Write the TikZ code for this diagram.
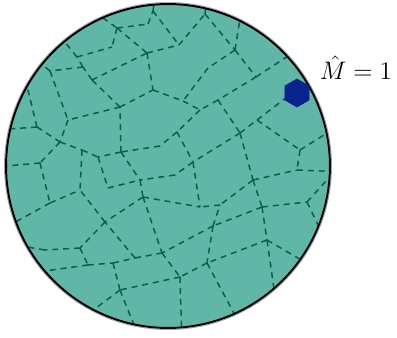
\documentclass[tikz,border=0pt]{standalone}
\usepackage{tikz}
\usetikzlibrary{shapes.geometric}
\usepackage{amsmath}
\definecolor{cellfill}{RGB}{96,183,168}
\definecolor{wallgreen}{RGB}{16,92,74}
\definecolor{sitenavy}{RGB}{8,36,140}

\begin{document}
\begin{tikzpicture}[
    x=0.02cm, y=-0.02cm,
    cellwall/.style={wallgreen, line width=0.85pt, dash pattern=on 3.4pt off 2.8pt},
    site/.style={regular polygon, regular polygon sides=6, shape border rotate=30,
        minimum size=0.56cm, inner sep=0pt, fill=sitenavy, draw=sitenavy},
]
    \useasboundingbox (0,0) rectangle (397,338);

    % disc
    \coordinate (c) at (168,166);
    \fill[cellfill] (c) circle[radius=3.24cm];

    % cell vertices
    \foreach \n/\x/\y in {p1/117/28, p2/148/24, p3/153/11, p4/147/53, p5/179/45,
        p6/205/14, p7/235/50, p8/208/68, p9/256/77, p10/218/100, p11/240/133,
        p12/257/120, p13/300/150, p14/253/180, p15/262/207, p16/307/202,
        p17/267/240, p18/207/263, p19/220/205, p20/153/90, p21/177/132,
        p22/193/162, p23/77/57, p24/112/47, p25/50/71, p26/83/67, p27/92/80,
        p28/120/107, p29/68/120, p30/121/152, p31/160/146, p32/37/127,
        p33/60/142, p34/82/150, p35/40/163, p36/50/203, p37/80/190,
        p38/108/188, p39/140/180, p40/143/197, p41/105/222, p42/45/250,
        p43/162/253, p44/180/277, p45/120/290, p46/88/265, p47/297/170,
        p48/200/110, p51/213/226, p52/175/175, p53/98/157, p58/80/248,
        p59/113/263, p60/135/258, p61/200/207, p62/183/101} {
        \coordinate (\n) at (\x,\y);
    }
    % free ends beyond the rim
    \foreach \n/\x/\y in {q1/85/5, q2/156/-10, q3/208/-10, q4/243/0, q5/305/45,
        q6/320/72, q7/340/125, q8/345/172, q9/345/160, q10/330/250,
        q11/315/268, q12/277/310, q13/243/330, q14/182/345, q15/55/30,
        q16/28/52, q17/25/78, q18/-5/130, q20/-5/167, q21/10/225,
        q22/15/245, q23/30/273, q24/80/320, q25/140/340} {
        \coordinate (\n) at (\x,\y);
    }

    % cell walls
    \begin{scope}
        \clip (c) circle[radius=3.24cm];
        \foreach \a/\b in {q1/p1, p1/p2, p2/p3, p3/q2, p1/p4, p1/p24, p3/p5,
            p4/p5, p5/p6, p6/q3, p6/p7, p7/q4, p7/p8, p7/p9, p8/p62, p20/p62,
            p62/p48, p4/p20, p9/q5, p9/p10, p10/p48, p48/p21, p10/p11,
            p11/p12, p12/q6, p12/p13, p13/q7, p13/p47, p47/q8, p11/p22,
            p11/p14, p14/p47, p14/p15, p14/p19, p15/p16, p16/q9, p16/q10,
            p15/p51, p15/p17, p51/p19, p51/p18, p51/p43, p17/p18, p17/q11,
            p17/q12, p18/q13, p18/p44, p19/p61} {
            \draw[cellwall] (\a) -- (\b);
        }
        \foreach \a/\b in {p21/p31, p31/p30, p21/p22, p22/p61, p22/p52,
            p52/p39, p30/p39, p30/p28, p30/p53, p28/p20, p28/p27, p28/p29,
            p27/p26, p27/p4, p26/p23, p26/p25, p23/p24, p23/q15, p25/q16,
            p25/p29, p29/p33, p32/q17, p32/q18, p32/p33, p33/p34, p34/p53,
            p34/p37, p33/p35, p35/q20, p35/p36, p36/p37, p36/q21, p53/p38,
            p38/p39, p39/p40, p40/p61, p40/p43, p40/p41, p41/p37, p41/p58,
            p58/p42, p42/q22, p58/p46, p46/q23, p46/p59, p59/p60, p60/p41,
            p60/p43, p59/p45, p43/p44, p44/q14, p44/p45, p45/q24, p45/q25} {
            \draw[cellwall] (\a) -- (\b);
        }
    \end{scope}

    % rim
    \draw[gray!70, line width=0.6pt] (c) circle[radius=3.27cm];
    \draw[black, line width=1.1pt] (c) circle[radius=3.24cm];

    % marked site
    \node[site] (mark) at (297,93) {};
    \node[font=\fontsize{15}{18}\selectfont] (label) at (356,68) {$\hat{M} = 1$};
\end{tikzpicture}
\end{document}
